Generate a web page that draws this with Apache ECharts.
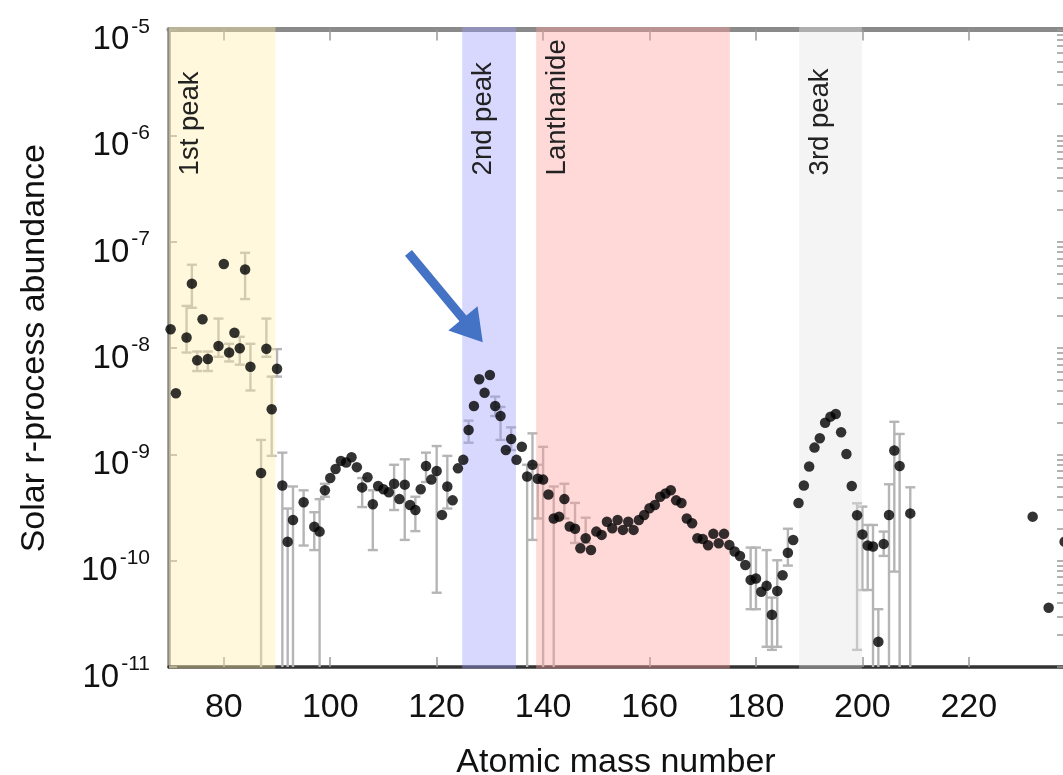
<!DOCTYPE html>
<html>
<head>
<meta charset="utf-8">
<script src="https://cdn.jsdelivr.net/npm/echarts@6/dist/echarts.min.js"></script>
<style>
html,body{margin:0;padding:0;background:#fff;}
#chart{width:1063px;height:775px;}
</style>
</head>
<body>
<div id="chart"></div>
<script>
// ---------------- data ----------------
const massNumbers = [70,71,73,74,75,76,77,79,80,81,82,83,84,85,87,88,89,90,91,92,93,95,97,98,
  99,100,101,102,103,104,105,106,107,108,109,110,111,112,113,114,115,116,117,118,119,120,121,122,123,124,125,
  126,127,128,129,130,131,132,133,134,135,136,137,138,139,140,141,142,143,144,145,146,147,148,149,
  150,151,152,153,154,155,156,157,158,159,160,161,162,163,164,165,166,167,168,169,170,171,172,173,174,175,
  176,177,178,179,180,181,182,183,184,185,186,187,188,189,190,191,192,193,194,195,196,197,198,199,200,
  201,202,203,204,205,206,207,209,232,235,238];
const abundance = [1.51e-8,3.77e-9,1.26e-8,4.05e-8,7.7e-9,1.87e-8,7.9e-9,1.05e-8,6.2e-8,9.1e-9,1.40e-8,1.00e-8,5.5e-8,6.7e-9,6.7e-10,9.9e-9,2.66e-9,6.4e-9,5.1e-10,1.51e-10,2.42e-10,3.55e-10,2.09e-10,1.88e-10,
  4.6e-10,6.0e-10,7.3e-10,8.7e-10,8.4e-10,9.4e-10,7.6e-10,4.9e-10,6.1e-10,3.4e-10,5.05e-10,4.7e-10,4.4e-10,5.3e-10,3.8e-10,5.2e-10,3.35e-10,3.0e-10,4.7e-10,7.8e-10,5.8e-10,7.0e-10,2.7e-10,5.0e-10,3.7e-10,7.4e-10,8.9e-10,
  1.7e-9,2.86e-9,5.1e-9,3.8e-9,5.6e-9,2.86e-9,2.3e-9,1.1e-9,1.4e-9,8.9e-10,1.18e-9,6.2e-10,8.0e-10,5.9e-10,5.8e-10,4.2e-10,2.5e-10,2.6e-10,3.8e-10,2.1e-10,2.0e-10,1.31e-10,1.63e-10,1.26e-10,
  1.88e-10,1.75e-10,2.33e-10,2.02e-10,2.42e-10,1.95e-10,2.33e-10,1.95e-10,2.42e-10,2.69e-10,3.12e-10,3.35e-10,4.0e-10,4.3e-10,4.6e-10,3.7e-10,3.5e-10,2.5e-10,2.25e-10,1.63e-10,1.6e-10,1.4e-10,1.79e-10,1.46e-10,1.79e-10,1.41e-10,
  1.22e-10,1.11e-10,9.1e-11,6.6e-11,6.8e-11,5.1e-11,5.8e-11,3.1e-11,5.2e-11,7.3e-11,1.19e-10,1.57e-10,3.5e-10,5.1e-10,7.7e-10,1.16e-9,1.42e-9,1.99e-9,2.27e-9,2.40e-9,1.62e-9,1.01e-9,5.05e-10,2.68e-10,1.77e-10,
  1.39e-10,1.36e-10,1.73e-11,1.44e-10,2.69e-10,1.09e-9,7.8e-10,2.79e-10,2.60e-10,3.61e-11,1.51e-10];
// error bars (mass number, lower end, upper end); 1e-11 = bar reaches the bottom axis
const errMass = [73,74,75,77,79,81,83,84,85,87,88,89,90,91,92,93,95,97,98,99,106,108,112,114,116,118,120,122,
  126,131,132,134,137,138,139,140,142,144,146,148,179,180,182,183,184,186,199,200,201,202,203,204,205,206,207,209];
const errLow = [9.1e-9,2.4e-8,6.1e-9,6.1e-9,8.3e-9,7.5e-9,7.0e-9,2.9e-8,4.0e-9,1e-11,8.3e-9,9.7e-10,5.4e-9,1e-11,1e-11,1e-11,1.39e-10,1.26e-10,1e-11,4.0e-10,3.2e-10,1.26e-10,3.0e-10,1.57e-10,1.9e-10,5.5e-10,5.0e-11,3.1e-10,
  1.29e-9,2.3e-9,1.37e-9,1.1e-9,1e-11,1.57e-10,2.5e-10,1e-11,1e-11,2.5e-10,1.47e-10,1.47e-10,3.5e-11,3.5e-11,1.55e-11,1.45e-11,1.55e-11,9e-11,1.45e-11,5.3e-11,5.3e-11,1e-11,1e-11,1.11e-10,1e-11,7.9e-11,1e-11,1e-11];
const errHigh = [2.5e-8,6.1e-8,9.3e-9,9.3e-9,1.9e-8,1.1e-8,1.28e-8,7.9e-8,1.1e-8,1.37e-9,1.9e-8,5.4e-9,9.8e-9,1.04e-9,3.1e-10,5.0e-10,4.6e-10,2.86e-10,3.8e-10,5.3e-10,6.0e-10,4.6e-10,8.0e-10,9.0e-10,4.0e-10,1.04e-9,1.2e-9,9.7e-10,
  2.08e-9,3.5e-9,2.8e-9,1.8e-9,8.0e-10,1.58e-9,8.0e-10,1.18e-9,5.0e-10,5.3e-10,3.5e-10,2.54e-10,1.33e-10,1.33e-10,1.26e-10,4.5e-11,1.01e-10,2.0e-10,3.47e-10,3.23e-10,2.17e-10,2.17e-10,3.5e-11,1.88e-10,5.24e-10,2.03e-9,1.56e-9,4.91e-10];
// shaded regions
const bandNames = ['1st peak','2nd peak','Lanthanide','3rd peak'];
const bandStart = [69.7,124.8,138.7,188.1];
const bandEnd   = [89.7,134.9,175.1,199.9];
const bandColors = ['rgba(255,238,168,0.4)','rgba(158,158,255,0.4)','rgba(255,158,158,0.4)','rgba(228,228,228,0.4)'];
// axes
const xMin = 69.7, xMax = 237.7;
const xTicks = [80,100,120,140,160,180,200,220];
const yMin = 1e-11, yMax = 1e-5;
const yTickExponents = [-11,-10,-9,-8,-7,-6,-5];
const yMinorMultipliers = [1,2,3,4,5,6,7,8,9];
// arrow annotation (data coordinates)
const arrowFrom = [114.7, 7.9e-8];
const arrowTo = [126.8, 1.47e-8];

const FONT = '"Liberation Sans", Arial, Helvetica, sans-serif';
const rightTicks = [];
yTickExponents.forEach(e => { if (e < -5) yMinorMultipliers.forEach(m => rightTicks.push(m * Math.pow(10, e))); });
rightTicks.push(1e-5);

const points = massNumbers.map((a, i) => [a, abundance[i]]);
const errData = errMass.map((a, i) => [a, errLow[i], errHigh[i]]);
const bandData = bandNames.map((n, i) => [bandStart[i], bandEnd[i], i]);

const chart = echarts.init(document.getElementById('chart'), null, {renderer: 'canvas'});
chart.setOption({
  animation: false,
  backgroundColor: '#fff',
  textStyle: {fontFamily: FONT},
  grid: {left: 169, top: 29.4, right: 0, bottom: 108, containLabel: false, outerBoundsMode: 'none'},
  xAxis: [{
    type: 'value', min: xMin, max: xMax, position: 'bottom',
    axisLine: {show: true, onZero: false, lineStyle: {color: '#333', width: 3.5}},
    axisTick: {show: true, inside: true, length: 10, customValues: xTicks, lineStyle: {color: '#999', width: 1.5}},
    axisLabel: {customValues: xTicks, fontSize: 34, color: '#111', margin: 24, fontFamily: FONT},
    splitLine: {show: false},
    name: 'Atomic mass number', nameLocation: 'middle', nameGap: 79,
    nameTextStyle: {fontSize: 34, color: '#111', fontFamily: FONT}
  }, {
    type: 'value', min: xMin, max: xMax, position: 'top',
    axisLine: {show: true, onZero: false, lineStyle: {color: '#8a8a8a', width: 5}},
    axisTick: {show: true, inside: true, length: 11, customValues: xTicks, lineStyle: {color: '#999', width: 1.5}},
    axisLabel: {show: false}, splitLine: {show: false}
  }],
  yAxis: [{
    type: 'log', logBase: 10, min: yMin, max: yMax, interval: 1, position: 'left',
    axisLine: {show: true, lineStyle: {color: '#8a8a8a', width: 3.5}},
    axisTick: {show: true, inside: true, length: 8, lineStyle: {color: '#999', width: 1.5}},
    axisLabel: {
      margin: 19, color: '#111', padding: [14, 0, 0, 0],
      formatter: v => '{b|10}{s|' + Math.round(Math.log10(v)) + '}',
      rich: {
        b: {fontSize: 33, lineHeight: 40, color: '#111', fontFamily: FONT, verticalAlign: 'bottom'},
        s: {fontSize: 21, lineHeight: 8, color: '#111', fontFamily: FONT, verticalAlign: 'top', padding: [0, 0, 0, 2]}
      }
    },
    splitLine: {show: false},
    name: 'Solar r-process abundance', nameLocation: 'middle', nameGap: 117, nameRotate: 90,
    nameTextStyle: {fontSize: 34, color: '#111', fontFamily: FONT}
  }, {
    type: 'log', logBase: 10, min: yMin, max: yMax, position: 'right',
    axisLine: {show: false},
    axisTick: {show: true, inside: true, length: 6, customValues: rightTicks, lineStyle: {color: '#999', width: 1.5}},
    axisLabel: {show: false}, splitLine: {show: false}
  }],
  series: [{
    type: 'custom', name: 'errors', z: 1, silent: true,
    renderItem: (params, api) => {
      const x = api.value(0), lo = api.value(1), hi = api.value(2);
      const pHi = api.coord([x, hi]);
      const pLo = api.coord([x, lo]);
      const style = {stroke: '#b5b5b5', lineWidth: 2.4};
      const children = [
        {type: 'line', shape: {x1: pHi[0], y1: pHi[1], x2: pLo[0], y2: pLo[1]}, style},
        {type: 'line', shape: {x1: pHi[0] - 5, y1: pHi[1], x2: pHi[0] + 5, y2: pHi[1]}, style}
      ];
      if (lo > yMin) children.push({type: 'line', shape: {x1: pLo[0] - 5, y1: pLo[1], x2: pLo[0] + 5, y2: pLo[1]}, style});
      return {type: 'group', children};
    },
    data: errData
  }, {
    type: 'custom', name: 'bands', z: 2, silent: true,
    renderItem: (params, api) => {
      const i = api.value(2);
      const p0 = api.coord([api.value(0), yMax]);
      const p1 = api.coord([api.value(1), yMin]);
      return {type: 'group', children: [
        {type: 'rect', shape: {x: p0[0], y: p0[1] - 2.5, width: p1[0] - p0[0], height: p1[1] - p0[1] + 4}, style: {fill: bandColors[i]}},
        {type: 'text', x: p0[0] + 21, y: p0[1] + 146, rotation: Math.PI / 2,
         style: {text: bandNames[i], fill: '#222', font: '27.5px ' + FONT, align: 'left', verticalAlign: 'middle'}}
      ]};
    },
    data: bandData
  }, {
    type: 'scatter', name: 'abundance', z: 3, symbol: 'circle', symbolSize: 10.5, clip: false,
    itemStyle: {color: '#000'},
    data: points,
    markLine: {
      silent: true, symbol: ['none', 'triangle'], symbolSize: [38, 31],
      lineStyle: {color: '#4472C4', width: 9, type: 'solid'},
      label: {show: false},
      data: [[{coord: arrowFrom}, {coord: arrowTo}]]
    }
  }]
});
</script>
</body>
</html>
